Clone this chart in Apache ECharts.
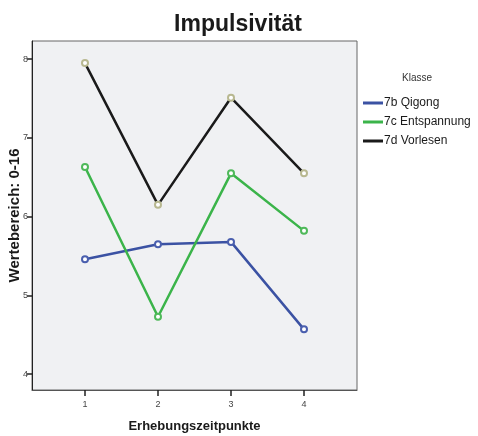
<!DOCTYPE html>
<html><head><meta charset="utf-8">
<script src="https://cdn.jsdelivr.net/npm/echarts@6/dist/echarts.min.js"></script>
<style>html,body{margin:0;padding:0;background:#fff}#c{width:478px;height:436px}</style>
</head><body><div id="c"></div>
<script>
const timepoints = [1, 2, 3, 4];
const yTicks = [4, 5, 6, 7, 8];
const seriesNames = ['7b Qigong', '7c Entspannung', '7d Vorlesen'];
const qigong = [5.46, 5.65, 5.68, 4.57];
const entspannung = [6.63, 4.73, 6.55, 5.82];
const vorlesen = [7.95, 6.15, 7.51, 6.55];

const colors = ['#3b52a3', '#3bb44a', '#1a1a1a'];
const markerColors = ['#4a5fae', '#4fb95a', '#b8b890'];
const values = [qigong, entspannung, vorlesen];
const font = '"Liberation Sans", Arial, sans-serif';

const chart = echarts.init(document.getElementById('c'));
chart.setOption({
  animation: false,
  backgroundColor: '#fff',
  title: [
    {text: 'Impulsivität', left: 233, top: 8, textAlign: 'center',
     textStyle: {fontFamily: font, fontSize: 23, fontWeight: 'bold', color: '#1a1a1a'}},
    {text: 'Klasse', left: 412, top: 68, textAlign: 'center',
     textStyle: {fontFamily: font, fontSize: 10, fontWeight: 'normal', color: '#333'}}
  ],
  legend: {
    orient: 'vertical', left: 358, top: 92, itemGap: 7,
    icon: 'rect', itemWidth: 20, itemHeight: 3,
    data: seriesNames.map((n, i) => ({name: n, itemStyle: {color: colors[i], borderWidth: 0}})),
    textStyle: {fontFamily: font, fontSize: 12, color: '#1a1a1a', padding: [0, 0, 0, -4]}
  },
  grid: {left: 32, top: 41, right: 121, bottom: 46, show: true, outerBoundsMode: 'none',
         containLabel: false,
         backgroundColor: '#f0f1f3', borderColor: '#666', borderWidth: 1},
  xAxis: {
    type: 'value', min: 0.274, max: 4.726,
    name: 'Erhebungszeitpunkte', nameLocation: 'middle', nameGap: 30, nameMoveOverlap: false,
    nameTextStyle: {fontFamily: font, fontSize: 13, fontWeight: 'bold', color: '#1a1a1a'},
    axisLine: {show: true, onZero: false, lineStyle: {color: '#555'}},
    axisTick: {show: true, length: 6, customValues: timepoints, lineStyle: {color: '#222', width: 1.5}},
    axisLabel: {customValues: timepoints, fontFamily: font, fontSize: 9, color: '#444', margin: 10},
    splitLine: {show: false}
  },
  yAxis: {
    type: 'value', min: 3.8, max: 8.23,
    name: 'Wertebereich: 0-16', nameLocation: 'middle', nameGap: 10, nameRotate: 90,
    nameMoveOverlap: false,
    nameTextStyle: {fontFamily: font, fontSize: 15, fontWeight: 'bold', color: '#1a1a1a'},
    axisLine: {show: true, onZero: false, lineStyle: {color: '#222'}},
    axisTick: {show: true, length: 5, customValues: yTicks, lineStyle: {color: '#222', width: 1.5}},
    axisLabel: {customValues: yTicks, fontFamily: font, fontSize: 9, color: '#444', margin: 4},
    splitLine: {show: false}
  },
  series: seriesNames.map((n, i) => ({
    name: n, type: 'line',
    data: timepoints.map((t, j) => [t, values[i][j]]),
    lineStyle: {color: colors[i], width: 2.5},
    itemStyle: {color: markerColors[i], borderColor: markerColors[i], borderWidth: 1},
    symbol: 'emptyCircle', symbolSize: 6,
    showSymbol: true,
    z: 2 + i
  }))
});
</script></body></html>
